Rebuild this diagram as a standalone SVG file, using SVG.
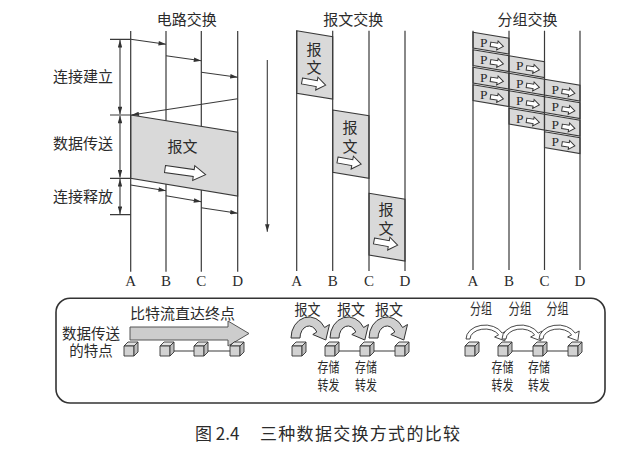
<svg xmlns="http://www.w3.org/2000/svg" width="640" height="454" viewBox="0 0 640 454">
<defs>
<style>
.cj{font-family:"Noto Sans CJK SC","Noto Sans CJK JP",sans-serif;font-size:15px;fill:#2b2b2b}
.sf{font-size:14.5px}
.st{font-size:14px}
.cap{font-size:17px}
.lt{font-family:"Liberation Serif",serif;font-size:15px;fill:#2b2b2b}
.p{font-family:"Liberation Serif",serif;font-size:13.5px;fill:#2b2b2b}
.ln{stroke:#3a3a3a;stroke-width:1.2;fill:none}
.ar{stroke:#3a3a3a;stroke-width:1.1;fill:none;marker-end:url(#ah)}
.dar{stroke:#3a3a3a;stroke-width:1.1;fill:none;marker-end:url(#ah);marker-start:url(#ah)}
.gr{fill:#d9d9d9;stroke:#3a3a3a;stroke-width:1.1}
.ha{fill:#fff;stroke:#333;stroke-width:1}
.cb{stroke:#333;stroke-width:0.9;stroke-linejoin:round}
.ca{fill:#cfcfcf;stroke:#333;stroke-width:1;stroke-linejoin:round}
.pa{fill:#fff;stroke:#333;stroke-width:0.9;stroke-linejoin:round}
</style>
<marker id="ah" viewBox="0 0 10 6" refX="10" refY="3" markerWidth="10" markerHeight="4.5" markerUnits="userSpaceOnUse" orient="auto-start-reverse">
<path d="M0,0 L10,3 L0,6 Z" fill="#333"/>
</marker>
<g id="cube">
<polygon class="cb" points="0,4 4,0 14,0 10,4" fill="#e2e2e2"/>
<rect class="cb" x="0" y="4" width="10" height="10" fill="#d2d2d2"/>
<polygon class="cb" points="10,4 14,0 14,10 10,14" fill="#bdbdbd"/>
</g>
<g id="pk">
<text class="p" x="7" y="14.5">P</text>
<path class="ha" stroke-width="0.8" d="M0,-2.2 L7,-2.2 L7,-4.5 L13,0 L7,4.5 L7,2.2 L0,2.2 Z" transform="translate(17.5,12) rotate(9)"/>
</g>
<path id="bigarrow" class="ha" d="M0,-3.5 L29,-3.5 L29,-7.5 L41,0 L29,7.5 L29,3.5 L0,3.5 Z"/>
<path id="smarrow" class="ha" d="M0,-3 L15,-3 L15,-6.5 L24,0 L15,6.5 L15,3 L0,3 Z"/>
<path id="thickarc" class="ca" d="M291,338 A18,21 0 0,1 324.6,327.5 L329.5,324.5 L325.8,340 L312.8,334.5 L316.8,332 A9,12 0 0,0 300,338 Z"/>
<path id="thinarc" class="pa" d="M466,339 A19,14 0 0,1 502.2,333.1 L506.2,331 L504.8,340.8 L494.6,337 L498.6,334.8 A15,10 0 0,0 470,339 Z"/>
</defs>

<rect width="640" height="454" fill="#fff"/>

<!-- titles -->
<g id="titles">
<text class="cj" x="186.7" y="25" text-anchor="middle">电路交换</text>
<text class="cj" x="353.3" y="25" text-anchor="middle">报文交换</text>
<text class="cj" x="527.5" y="25" text-anchor="middle">分组交换</text>
</g>

<!-- circuit switching -->
<g id="circuit">
<polygon class="gr" points="130.7,115 237.7,132.3 237.7,196 130.7,178.3"/>
<path class="ln" d="M130.7,31 V271.7 M166,31 V120.5 M166,184.1 V271.7 M201.3,31 V126.3 M201.3,190 V271.7 M237.7,31 V271.7"/>
<path class="ln" d="M110,39.3 H130.7 M110,115 H130.7 M110,178.3 H130.7 M110,214.7 H130.7"/>
<text class="cj" x="83" y="82" text-anchor="middle">连接建立</text>
<text class="cj" x="83" y="149" text-anchor="middle">数据传送</text>
<text class="cj" x="83" y="202" text-anchor="middle">连接释放</text>
<text class="cj" x="182.5" y="152" text-anchor="middle">报文</text>
<use href="#bigarrow" transform="translate(165,169) rotate(8)"/>
<text class="lt" x="130.7" y="286" text-anchor="middle">A</text>
<text class="lt" x="166" y="286" text-anchor="middle">B</text>
<text class="lt" x="201.3" y="286" text-anchor="middle">C</text>
<text class="lt" x="237.7" y="286" text-anchor="middle">D</text>
</g>

<!-- message switching -->
<g id="message">
<polygon class="gr" points="296.7,30.7 332.7,36.7 332.7,99 296.7,93.3"/>
<polygon class="gr" points="332.7,110 369,115.7 369,178.3 332.7,172.3"/>
<polygon class="gr" points="369,193.3 405,199.3 405,261 369,255"/>
<path class="ln" d="M296.7,30.7 V271 M332.7,30.7 V271 M369,30.7 V271 M405,30.7 V271"/>
<text class="cj" text-anchor="middle"><tspan x="314" y="54.5">报</tspan><tspan x="314" y="73">文</tspan></text>
<use href="#smarrow" transform="translate(302,81) rotate(10)"/>
<text class="cj" text-anchor="middle"><tspan x="350" y="133">报</tspan><tspan x="350" y="151.5">文</tspan></text>
<use href="#smarrow" transform="translate(337.5,160) rotate(10)"/>
<text class="cj" text-anchor="middle"><tspan x="386" y="214.5">报</tspan><tspan x="386" y="234">文</tspan></text>
<use href="#smarrow" transform="translate(374,241) rotate(10)"/>
<text class="lt" x="296.7" y="286" text-anchor="middle">A</text>
<text class="lt" x="332.7" y="286" text-anchor="middle">B</text>
<text class="lt" x="369" y="286" text-anchor="middle">C</text>
<text class="lt" x="405" y="286" text-anchor="middle">D</text>
</g>

<!-- packet switching -->
<g id="packet">
<polygon class="gr" points="473,32.3 509,38.3 509,54 473,48"/>
<polygon class="gr" points="473,49.8 509,55.8 509,71.5 473,65.5"/>
<polygon class="gr" points="473,67.3 509,73.3 509,89 473,83"/>
<polygon class="gr" points="473,84.8 509,90.8 509,106.5 473,100.5"/>
<polygon class="gr" points="509,55.8 544.5,61.8 544.5,77.5 509,71.5"/>
<polygon class="gr" points="509,73.3 544.5,79.3 544.5,95 509,89"/>
<polygon class="gr" points="509,90.8 544.5,96.8 544.5,112.5 509,106.5"/>
<polygon class="gr" points="509,108.3 544.5,114.3 544.5,130 509,124"/>
<polygon class="gr" points="544.5,79.3 580,85.3 580,101 544.5,95"/>
<polygon class="gr" points="544.5,96.8 580,102.8 580,118.5 544.5,112.5"/>
<polygon class="gr" points="544.5,114.3 580,120.3 580,136 544.5,130"/>
<polygon class="gr" points="544.5,131.8 580,137.8 580,153.5 544.5,147.5"/>
<use href="#pk" transform="translate(473,32.3)"/>
<use href="#pk" transform="translate(473,49.8)"/>
<use href="#pk" transform="translate(473,67.3)"/>
<use href="#pk" transform="translate(473,84.8)"/>
<use href="#pk" transform="translate(509,55.8)"/>
<use href="#pk" transform="translate(509,73.3)"/>
<use href="#pk" transform="translate(509,90.8)"/>
<use href="#pk" transform="translate(509,108.3)"/>
<use href="#pk" transform="translate(544.5,79.3)"/>
<use href="#pk" transform="translate(544.5,96.8)"/>
<use href="#pk" transform="translate(544.5,114.3)"/>
<use href="#pk" transform="translate(544.5,131.8)"/>
<path class="ln" d="M473,30.7 V270 M509,30.7 V270 M544.5,30.7 V270 M580,30.7 V270"/>
<text class="lt" x="473" y="286" text-anchor="middle">A</text>
<text class="lt" x="509" y="286" text-anchor="middle">B</text>
<text class="lt" x="544.5" y="286" text-anchor="middle">C</text>
<text class="lt" x="580" y="286" text-anchor="middle">D</text>
</g>

<!-- connectors -->
<g id="connectors">
<path class="ar" d="M130.7,39.3 L166,44.3"/>
<path class="ar" d="M166,55.7 L201.3,60.7"/>
<path class="ar" d="M201.3,72.3 L237.7,77.3"/>
<path class="ar" d="M237.7,98.7 L131.5,115"/>
<path class="ar" d="M130.7,185 L166,190.7"/>
<path class="ar" d="M166,195.7 L201.3,201.7"/>
<path class="ar" d="M201.3,207.7 L237.7,213.3"/>
<path class="dar" d="M120,40 V114.3"/>
<path class="dar" d="M120,115.7 V177.6"/>
<path class="dar" d="M120,179 V214"/>
<path class="ar" d="M267.3,60 V231.7"/>
</g>

<!-- bottom comparison box -->
<g id="summary">
<rect x="56" y="298.3" width="549" height="104.7" rx="14" fill="none" stroke="#333" stroke-width="1.6"/>
<text class="cj sf" text-anchor="middle"><tspan x="91" y="338.5">数据传送</tspan><tspan x="91" y="355.5">的特点</tspan></text>
<text class="cj" x="182.5" y="318.5" text-anchor="middle">比特流直达终点</text>
<polygon points="130,327 228,327 228,321 249,333.5 228,346 228,340 130,340" fill="#cdcdcd" stroke="#555" stroke-width="1"/>
<use href="#cube" x="124" y="342"/>
<use href="#cube" x="160" y="342"/>
<use href="#cube" x="194" y="342"/>
<use href="#cube" x="230" y="342"/>
<path class="ln" d="M174,351 H194 M208,351 H230"/>

<text class="cj" x="307.5" y="315" text-anchor="middle" textLength="26" lengthAdjust="spacingAndGlyphs">报文</text>
<text class="cj" x="351" y="315" text-anchor="middle" textLength="28" lengthAdjust="spacingAndGlyphs">报文</text>
<text class="cj" x="389" y="315" text-anchor="middle" textLength="28" lengthAdjust="spacingAndGlyphs">报文</text>
<use href="#thickarc"/>
<use href="#thickarc" transform="translate(39,0)"/>
<use href="#thickarc" transform="translate(78,0)"/>
<use href="#cube" x="292" y="342"/>
<use href="#cube" x="325" y="342"/>
<use href="#cube" x="360" y="342"/>
<use href="#cube" x="395" y="342"/>
<path class="ln" d="M339,351 H360 M374,351 H395"/>
<text class="cj st" text-anchor="middle" transform="translate(328.5,0) scale(0.78,1)"><tspan x="0" y="372.5">存储</tspan><tspan x="0" y="390">转发</tspan></text>
<text class="cj st" text-anchor="middle" transform="translate(366,0) scale(0.78,1)"><tspan x="0" y="372.5">存储</tspan><tspan x="0" y="390">转发</tspan></text>

<text class="cj" x="481" y="314" text-anchor="middle" textLength="22" lengthAdjust="spacingAndGlyphs">分组</text>
<text class="cj" x="520" y="314" text-anchor="middle" textLength="23" lengthAdjust="spacingAndGlyphs">分组</text>
<text class="cj" x="557.5" y="314" text-anchor="middle" textLength="22" lengthAdjust="spacingAndGlyphs">分组</text>
<use href="#thinarc"/>
<use href="#thinarc" transform="translate(36,0)"/>
<use href="#thinarc" transform="translate(73,0)"/>
<use href="#cube" x="465" y="342"/>
<use href="#cube" x="498" y="342"/>
<use href="#cube" x="533" y="342"/>
<use href="#cube" x="568" y="342"/>
<path class="ln" d="M512,351 H533 M547,351 H568"/>
<text class="cj st" text-anchor="middle" transform="translate(502.5,0) scale(0.78,1)"><tspan x="0" y="372.5">存储</tspan><tspan x="0" y="390">转发</tspan></text>
<text class="cj st" text-anchor="middle" transform="translate(539,0) scale(0.78,1)"><tspan x="0" y="372.5">存储</tspan><tspan x="0" y="390">转发</tspan></text>
</g>

<!-- caption -->
<g id="caption">
<text class="cj cap" x="195" y="439.5">图 2.4</text>
<text class="cj cap" x="260" y="439.5" textLength="200" lengthAdjust="spacing">三种数据交换方式的比较</text>
</g>
</svg>
